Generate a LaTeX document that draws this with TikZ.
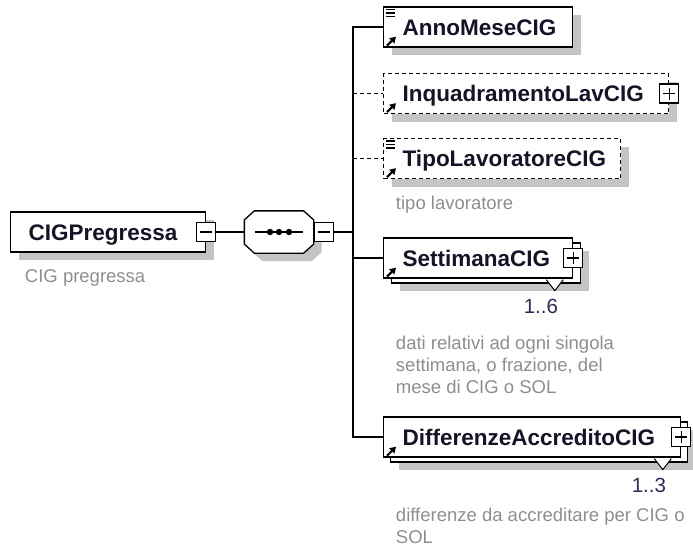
\documentclass[tikz,border=0pt]{standalone}
\usepackage{fontspec}
\setmainfont{Liberation Sans}
\usepackage{tikz}
\usetikzlibrary{arrows.meta, positioning, calc, shadows}
\definecolor{xsdink}{HTML}{141428}
\definecolor{xsdgrey}{HTML}{8E8E8E}
\definecolor{xsdshadow}{HTML}{C4C4C4}
\definecolor{xsdcard}{HTML}{2E2A55}

\begin{document}
\begin{tikzpicture}[x=1pt, y=-1pt, line width=1.3pt,
  elem/.style={draw, fill=white, anchor=west, minimum height=40pt,
    inner xsep=19pt, inner ysep=0pt, text height=16.5pt, text depth=0.5pt,
    align=left, text=xsdink, font=\fontsize{22.5}{26}\selectfont\bfseries},
  boxshadow/.style={drop shadow={shadow xshift=8pt, shadow yshift=-8pt,
    opacity=1, fill=xsdshadow}},
  opt/.style={dash pattern=on 4pt off 3pt},
  pmbox/.style={draw, fill=white, minimum size=19pt, inner sep=0pt},
  minusbox/.style={pmbox, path picture={
    \draw ([xshift=-6pt]path picture bounding box.center) -- ([xshift=6pt]path picture bounding box.center);}},
  plusbox/.style={pmbox, path picture={
    \draw ([xshift=-6pt]path picture bounding box.center) -- ([xshift=6pt]path picture bounding box.center);
    \draw ([yshift=-6pt]path picture bounding box.center) -- ([yshift=6pt]path picture bounding box.center);}},
  desc/.style={anchor=base west, align=left, text=xsdgrey, inner ysep=1pt,
    font=\fontsize{18.5}{22}\selectfont},
  card/.style={anchor=base east, text=xsdcard, font=\fontsize{20.5}{24}\selectfont},
  refarrow/.style={line width=2pt, -{Triangle[length=6pt, width=7pt]}}]
  \useasboundingbox (0,0) rectangle (693,547);

  \node[elem, inner xsep=18pt, text width=159pt, boxshadow] (root) at (10,232) {CIGPregressa};
  \node[minusbox] (rootpm) at (root.east) {};
  \node[desc] (rootdesc) at (21,282) {CIG pregressa};

  \node[minimum width=68pt, minimum height=41pt, inner sep=0pt] (seq) at (279,232) {};
  \draw[fill=white, boxshadow] ($(seq.north west)+(10,0)$) -- ($(seq.north east)+(-10,0)$)
    -- ($(seq.north east)+(0,9)$) -- ($(seq.south east)+(0,-9)$)
    -- ($(seq.south east)+(-10,0)$) -- ($(seq.south west)+(10,0)$)
    -- ($(seq.south west)+(0,-9)$) -- ($(seq.north west)+(0,9)$) -- cycle;
  \node[minusbox, anchor=west] (seqpm) at (seq.east) {};
  \draw ($(seq.center)+(-24,0)$) -- ($(seq.center)+(24,0)$);
  \foreach \dx in {-9,0,10}
    \fill ($(seq.center)+(\dx,0)$) circle (3.2pt);

  \node[elem, text width=151pt, boxshadow] (anno) at (383,27) {AnnoMeseCIG};
  \node[elem, opt, text width=247pt, boxshadow] (inq) at (383,93.5) {InquadramentoLavCIG};
  \node[plusbox] (inqpm) at (inq.east) {};
  \node[elem, opt, text width=199pt, boxshadow] (tipo) at (383,158.5) {TipoLavoratoreCIG};
  \node[desc] (tipodesc) at (392,209) {tipo lavoratore};

  \node[elem, text width=151pt, boxshadow] (setback) at (391,263) {};
  \node[elem, text width=151pt] (set) at (383,258) {SettimanaCIG};
  \filldraw[fill=white, line width=1pt] ($(set.south east)+(-27,1)$) -- ++(8.5,11) -- ++(8.5,-11);
  \node[plusbox] (setpm) at (set.east) {};
  \node[card] (setcard) at (562,313) {1..6};
  \node[desc] (setdesc) at (392,393) {dati relativi ad ogni singola\\settimana, o frazione, del\\mese di CIG o SOL};

  \node[elem, text width=259pt, boxshadow] (diffback) at (390,442) {};
  \node[elem, text width=259pt] (diff) at (383,437) {DifferenzeAccreditoCIG};
  \filldraw[fill=white, line width=1pt] ($(diff.south east)+(-27,1)$) -- ++(8.5,11) -- ++(8.5,-11);
  \node[plusbox] (diffpm) at (diff.east) {};
  \node[card] (diffcard) at (670,492) {1..3};
  \node[desc] (diffdesc) at (392,543) {differenze da accreditare per CIG o\\SOL};

  \foreach \n in {anno,tipo}
    \foreach \dy in {3,6.5,10}
      \draw[line width=1.3pt] ($(\n.north west)+(3,\dy)$) -- ++(9,0);
  \foreach \n in {anno,inq,tipo,set,diff}
    \draw[refarrow] ($(\n.south west)+(4,-2)$) -- ($(\n.south west)+(13,-11)$);

  \coordinate (spine) at (353,232);
  \draw (rootpm) -- (seq);
  \draw (seqpm) -- (spine);
  \draw (anno.west) -| (spine) |- (diff.west);
  \draw (spine |- set.west) -- (set.west);
  \draw[opt] (spine |- inq.west) -- (inq.west);
  \draw[opt] (spine |- tipo.west) -- (tipo.west);
\end{tikzpicture}
\end{document}
